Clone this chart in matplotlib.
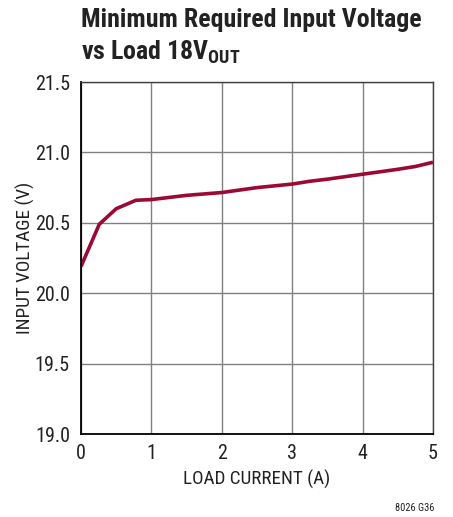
import matplotlib
matplotlib.use("Agg")
import matplotlib.pyplot as plt
from matplotlib import font_manager

load_current = [0.0, 0.26, 0.5, 0.78, 1.0, 1.5, 2.0, 2.5, 3.0, 3.25, 3.5, 4.0, 4.5, 4.75, 5.0]
input_voltage = [20.19, 20.49, 20.60, 20.66, 20.665, 20.695, 20.715, 20.75, 20.775, 20.795, 20.81, 20.845, 20.88, 20.90, 20.93]
x_ticks = [0, 1, 2, 3, 4, 5]
y_ticks = [19.0, 19.5, 20.0, 20.5, 21.0, 21.5]

fl = font_manager.fontManager.ttflist
names = {f.name for f in fl}
cond = None
for cand in ["Liberation Sans Narrow", "Roboto Condensed", "Open Sans Condensed", "Noto Sans Condensed"]:
    if cand in names:
        cond = (cand, "normal")
        break
if cond is None:
    for f in fl:
        if f.weight in ("bold", 700) and ("Condensed" in f.fname or "Narrow" in f.fname):
            cond = (f.name, "condensed")
            break
if cond is None:
    cond = ("Liberation Sans", "normal")

plt.rcParams['font.family'] = [cond[0], 'DejaVu Sans']
plt.rcParams['font.stretch'] = cond[1]

fig = plt.figure(figsize=(4.53, 5.17), dpi=100)
ax = fig.add_axes([81/453, 1-434/517, (433-81)/453, (434-82)/517])

ax.plot(load_current, input_voltage, color="#9b0a34", lw=2.6, solid_capstyle="butt")
ax.set_xlim(0, 5)
ax.set_ylim(19.0, 21.5)
ax.set_xticks(x_ticks)
ax.set_yticks(y_ticks)
ax.set_yticklabels([f"{v:.1f}" for v in y_ticks])
ax.grid(True, color="#808080", lw=1.0)
ax.tick_params(axis='y', length=0, labelsize=14.5, pad=8, colors="#222222")
ax.tick_params(axis='x', length=0, labelsize=14.5, pad=7, colors="#222222")
for s in ax.spines.values():
    s.set_color("#404040")
    s.set_linewidth(1.0)
ax.spines['left'].set_color("black")
ax.spines['left'].set_linewidth(1.3)
ax.spines['bottom'].set_color("black")
ax.spines['bottom'].set_linewidth(1.3)

ax.set_xlabel("LOAD CURRENT (A)", fontsize=13.8, color="#222222", labelpad=5)
ax.set_ylabel("INPUT VOLTAGE (V)", fontsize=13.8, color="#222222", labelpad=0)

tkw = dict(fontsize=18.6, fontweight="bold", va="top", ha="left", color="#222222")
fig.text(81/453, 1-8/517, "Minimum Required Input Voltage", **tkw)
fig.text(81/453, 1-38/517, r"vs Load 18V$_{\mathregular{OUT}}$", **tkw)
fig.text(434/453, 1-508/517, "8026 G36", fontsize=7.5, ha="right", va="center", color="#222222")

fig.savefig("out.png", dpi=100)
